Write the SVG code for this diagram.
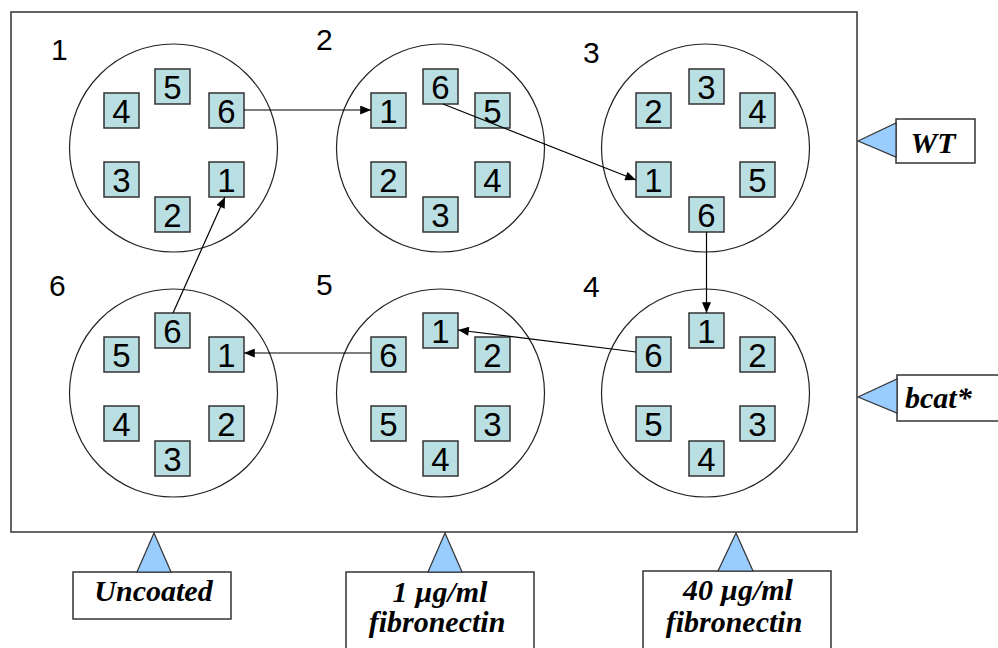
<svg xmlns="http://www.w3.org/2000/svg" width="998" height="648" viewBox="0 0 998 648">
<defs>
<style>
.plate{fill:#fff;stroke:#333;stroke-width:1.5}
.well{fill:#fff;stroke:#222;stroke-width:1.2}
.b{fill:#b9dfe2;stroke:#333;stroke-width:1.5}
.d{font-family:"Liberation Sans",Arial,sans-serif;font-size:33px;text-anchor:middle;fill:#000}
.wl{font-family:"Liberation Sans",Arial,sans-serif;font-size:30px;fill:#000}
.con{stroke:#000;stroke-width:1.2;fill:none;marker-end:url(#ah)}
.tri{fill:#99ccff;stroke:#333;stroke-width:1.2;stroke-linejoin:miter}
.lbox{fill:#fff;stroke:#333;stroke-width:1.5}
.lt{font-family:"Liberation Serif","Times New Roman",serif;font-weight:bold;font-style:italic;font-size:30px;fill:#000}
</style>
<marker id="ah" viewBox="0 0 12 10" refX="12" refY="5" markerWidth="12" markerHeight="9" markerUnits="userSpaceOnUse" orient="auto">
<path d="M0,0 L12,5 L0,10 z" fill="#000"/>
</marker>
</defs>
<rect x="0" y="0" width="998" height="648" fill="#fff"/>
<rect class="plate" x="11" y="12" width="846" height="520"/>

<g id="well1">
<circle class="well" cx="173.5" cy="148" r="104"/>
<text class="wl" x="51" y="60">1</text>
<rect class="b" x="155" y="69" width="35" height="35"/><text class="d" x="172.5" y="99">5</text>
<rect class="b" x="104" y="93" width="35" height="35"/><text class="d" x="121.5" y="123">4</text>
<rect class="b" x="209" y="93" width="35" height="35"/><text class="d" x="226.5" y="123">6</text>
<rect class="b" x="104" y="162" width="35" height="35"/><text class="d" x="121.5" y="192">3</text>
<rect class="b" x="209" y="162" width="35" height="35"/><text class="d" x="226.5" y="192">1</text>
<rect class="b" x="155" y="197" width="35" height="35"/><text class="d" x="172.5" y="227">2</text>
</g>

<g id="well2">
<circle class="well" cx="440.5" cy="148" r="104"/>
<text class="wl" x="316" y="50">2</text>
<rect class="b" x="423" y="69" width="35" height="35"/><text class="d" x="440.5" y="99">6</text>
<rect class="b" x="371" y="93" width="35" height="35"/><text class="d" x="388.5" y="123">1</text>
<rect class="b" x="475" y="93" width="35" height="35"/><text class="d" x="492.5" y="123">5</text>
<rect class="b" x="371" y="162" width="35" height="35"/><text class="d" x="388.5" y="192">2</text>
<rect class="b" x="475" y="162" width="35" height="35"/><text class="d" x="492.5" y="192">4</text>
<rect class="b" x="423" y="197" width="35" height="35"/><text class="d" x="440.5" y="227">3</text>
</g>

<g id="well3">
<circle class="well" cx="705.5" cy="148" r="104"/>
<text class="wl" x="583" y="63">3</text>
<rect class="b" x="689" y="69" width="35" height="35"/><text class="d" x="706.5" y="99">3</text>
<rect class="b" x="636" y="93" width="35" height="35"/><text class="d" x="653.5" y="123">2</text>
<rect class="b" x="740" y="93" width="35" height="35"/><text class="d" x="757.5" y="123">4</text>
<rect class="b" x="636" y="162" width="35" height="35"/><text class="d" x="653.5" y="192">1</text>
<rect class="b" x="740" y="162" width="35" height="35"/><text class="d" x="757.5" y="192">5</text>
<rect class="b" x="689" y="197" width="35" height="35"/><text class="d" x="706.5" y="227">6</text>
</g>

<g id="well4">
<circle class="well" cx="705.5" cy="393" r="104"/>
<text class="wl" x="583" y="297">4</text>
<rect class="b" x="689" y="313" width="35" height="35"/><text class="d" x="706.5" y="343">1</text>
<rect class="b" x="636" y="337" width="35" height="35"/><text class="d" x="653.5" y="367">6</text>
<rect class="b" x="740" y="337" width="35" height="35"/><text class="d" x="757.5" y="367">2</text>
<rect class="b" x="636" y="406" width="35" height="35"/><text class="d" x="653.5" y="436">5</text>
<rect class="b" x="740" y="406" width="35" height="35"/><text class="d" x="757.5" y="436">3</text>
<rect class="b" x="689" y="441" width="35" height="35"/><text class="d" x="706.5" y="471">4</text>
</g>

<g id="well5">
<circle class="well" cx="440.5" cy="393" r="104"/>
<text class="wl" x="316" y="295">5</text>
<rect class="b" x="423" y="313" width="35" height="35"/><text class="d" x="440.5" y="343">1</text>
<rect class="b" x="371" y="337" width="35" height="35"/><text class="d" x="388.5" y="367">6</text>
<rect class="b" x="475" y="337" width="35" height="35"/><text class="d" x="492.5" y="367">2</text>
<rect class="b" x="371" y="406" width="35" height="35"/><text class="d" x="388.5" y="436">5</text>
<rect class="b" x="475" y="406" width="35" height="35"/><text class="d" x="492.5" y="436">3</text>
<rect class="b" x="423" y="441" width="35" height="35"/><text class="d" x="440.5" y="471">4</text>
</g>

<g id="well6">
<circle class="well" cx="173.5" cy="393" r="104"/>
<text class="wl" x="49" y="296">6</text>
<rect class="b" x="155" y="313" width="35" height="35"/><text class="d" x="172.5" y="343">6</text>
<rect class="b" x="104" y="337" width="35" height="35"/><text class="d" x="121.5" y="367">5</text>
<rect class="b" x="209" y="337" width="35" height="35"/><text class="d" x="226.5" y="367">1</text>
<rect class="b" x="104" y="406" width="35" height="35"/><text class="d" x="121.5" y="436">4</text>
<rect class="b" x="209" y="406" width="35" height="35"/><text class="d" x="226.5" y="436">2</text>
<rect class="b" x="155" y="441" width="35" height="35"/><text class="d" x="172.5" y="471">3</text>
</g>

<g id="connectors">
<line class="con" x1="244" y1="110" x2="371" y2="110"/>
<line class="con" x1="443" y1="104" x2="636" y2="180"/>
<line class="con" x1="706.5" y1="232" x2="706.5" y2="313"/>
<line class="con" x1="636" y1="352" x2="458" y2="330"/>
<line class="con" x1="371" y1="353" x2="244" y2="353"/>
<line class="con" x1="173" y1="313" x2="225" y2="197"/>
</g>

<g id="label-wt">
<rect class="lbox" x="896" y="119" width="79" height="44"/>
<polygon class="tri" points="858,141 896,123 896,157"/>
<text class="lt" x="933" y="153" text-anchor="middle" font-size="32">WT</text>
</g>
<g id="label-bcat">
<rect class="lbox" x="897" y="375" width="110" height="46"/>
<polygon class="tri" points="858,397 897,379 897,413"/>
<text class="lt" x="905" y="408" font-size="32">bcat*</text>
</g>
<g id="label-uncoated">
<rect class="lbox" x="73" y="572" width="158" height="47"/>
<polygon class="tri" points="154,533 137,572 171,572"/>
<text class="lt" x="153.5" y="601" text-anchor="middle">Uncoated</text>
</g>
<g id="label-1ug">
<rect class="lbox" x="346" y="572" width="188" height="90"/>
<polygon class="tri" points="445,533 428,572 462,572"/>
<text class="lt" x="440" y="602" text-anchor="middle">1 µg/ml</text>
<text class="lt" x="437" y="632" text-anchor="middle">fibronectin</text>
</g>
<g id="label-40ug">
<rect class="lbox" x="643" y="571" width="188" height="90"/>
<polygon class="tri" points="736,533 718,571 753,571"/>
<text class="lt" x="738" y="600" text-anchor="middle">40 µg/ml</text>
<text class="lt" x="734" y="632" text-anchor="middle">fibronectin</text>
</g>
</svg>
